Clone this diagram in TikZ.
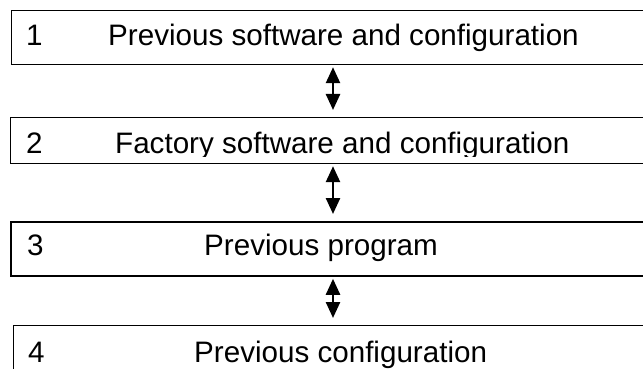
\documentclass[tikz,border=0pt]{standalone}
\usepackage{fontspec}
\setmainfont{Liberation Sans}
\usetikzlibrary{arrows.meta}

\begin{document}
\begin{tikzpicture}[
    x=1pt, y=-1pt,
    every node/.style={font=\fontsize{29.6}{35}\selectfont},
    block/.style={draw, line width=1.2pt, anchor=north west, inner sep=0pt,
                  minimum width=660pt},
    lbl/.style={anchor=base west, inner sep=0pt},
    >={Triangle[length=16pt, width=14pt]},
  ]
  \useasboundingbox (0,0) rectangle (643,369);
  \clip (0,0) rectangle (643,369);

  \node[block, minimum height=54pt]                 (s1) at (11,10)  {};
  \node[block, minimum height=46pt]                 (s2) at (10,117) {};
  \node[block, minimum height=54pt, line width=1.8pt] (s3) at (10,221) {};
  \node[block, minimum height=70pt]                 (s4) at (13,325) {};

  \node[lbl] (n1) at (26,46)  {1};
  \node[lbl] (t1) at (108,46) {Previous software and configuration};
  \node[lbl] (n2) at (26,153) {2};
  \begin{scope}
    \clip (0,0) rectangle (643,156);
    \node[lbl] (t2) at (115,153) {Factory software and configuration};
  \end{scope}
  \node[lbl] (n3) at (27,255) {3};
  \node[lbl] (t3) at (204,255) {Previous program};
  \node[lbl] (n4) at (28,362) {4};
  \node[lbl] (t4) at (194,362) {Previous configuration};

  % two-way arrows between the steps
  \coordinate (ax) at (333,0);
  \draw[<->, line width=2.5pt, shorten <=2pt, shorten >=7pt] (s1.south -| ax) -- (s2.north -| ax);
  \draw[<->, line width=2.5pt, shorten <=2pt, shorten >=7pt] (s2.south -| ax) -- (s3.north -| ax);
  \draw[<->, line width=2.5pt, shorten <=2pt, shorten >=7pt] (s3.south -| ax) -- (s4.north -| ax);
\end{tikzpicture}
\end{document}
